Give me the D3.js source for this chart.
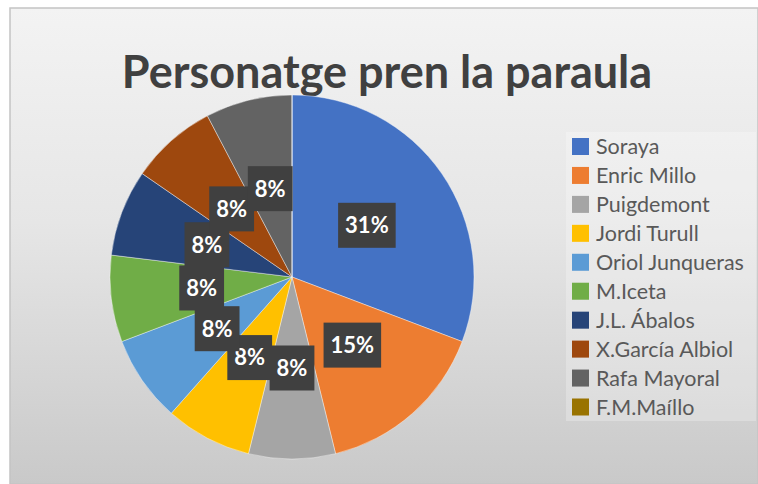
<!DOCTYPE html>
<html>
<head>
<meta charset="utf-8">
<script src="https://cdn.jsdelivr.net/npm/d3@7"></script>
<style>
  html, body { margin: 0; padding: 0; background: #ffffff; }
  svg { display: block; }
</style>
</head>
<body>
<svg id="chart" width="758" height="484"></svg>
<script>
const categories = ["Soraya", "Enric Millo", "Puigdemont", "Jordi Turull", "Oriol Junqueras",
  "M.Iceta", "J.L. Ábalos", "X.García Albiol", "Rafa Mayoral", "F.M.Maíllo"];
const values = [4, 2, 1, 1, 1, 1, 1, 1, 1, 0];
const colors = ["#4472C4", "#ED7D31", "#A5A5A5", "#FFC000", "#5B9BD5",
  "#70AD47", "#264478", "#9E480E", "#636363", "#997300"];
const title = "Personatge pren la paraula";

const svg = d3.select("#chart");
const W = 758, H = 484;

// background panel with gradient
const defs = svg.append("defs");
const grad = defs.append("linearGradient").attr("id", "bg").attr("x1", 0).attr("y1", 0).attr("x2", 0).attr("y2", 1);
grad.append("stop").attr("offset", "0%").attr("stop-color", "#f3f3f3");
grad.append("stop").attr("offset", "45%").attr("stop-color", "#e6e6e6");
grad.append("stop").attr("offset", "100%").attr("stop-color", "#c9c9c9");

svg.append("rect").attr("x", 0).attr("y", 0).attr("width", W).attr("height", H).attr("fill", "#ffffff");
svg.append("rect").attr("x", 10).attr("y", 8).attr("width", W - 10).attr("height", H - 8)
  .attr("fill", "url(#bg)").attr("stroke", "#c4c4c4").attr("stroke-width", 1.5);

// title
svg.append("text")
  .attr("x", 387).attr("y", 88)
  .attr("text-anchor", "middle")
  .attr("font-family", "Lato, 'Open Sans', sans-serif")
  .attr("font-weight", "bold")
  .attr("font-size", 45)
  .attr("fill", "#404040")
  .text(title);

// pie
const cx = 292, cy = 277, R = 182;
const g = svg.append("g").attr("transform", `translate(${cx},${cy})`);
const pie = d3.pie().sort(null).value(d => d.v);
const data = categories.map((c, i) => ({ c, v: values[i], col: colors[i] }));
const arcs = pie(data);
const arc = d3.arc().innerRadius(0).outerRadius(R);
const total = d3.sum(values);

g.selectAll("path.slice").data(arcs).join("path")
  .attr("class", "slice")
  .attr("d", arc)
  .attr("fill", d => d.data.col)
  .attr("stroke", "#ffffff").attr("stroke-opacity", 0.5).attr("stroke-width", 0.8);

// data labels
const fmt = d3.format(".0%");
const labels = g.selectAll("g.lab").data(arcs.filter(d => d.data.v > 0)).join("g")
  .attr("class", "lab")
  .attr("transform", d => { const [x, y] = arc.centroid(d); return `translate(${x},${y})`; });
labels.each(function(d) {
  const s = d3.select(this);
  const t = s.append("text")
    .attr("text-anchor", "middle")
    .attr("dy", "0.36em")
    .attr("font-family", "Lato, 'Open Sans', sans-serif")
    .attr("font-weight", "bold")
    .attr("font-size", 22)
    .attr("fill", "#ffffff")
    .text(fmt(d.data.v / total));
  const w = t.node().getComputedTextLength() + 14;
  s.insert("rect", "text")
    .attr("x", -w / 2).attr("y", -22.5).attr("width", w).attr("height", 45)
    .attr("fill", "#404040");
});

// legend
const lg = svg.append("g");
lg.append("rect").attr("x", 566).attr("y", 132).attr("width", 190).attr("height", 289)
  .attr("fill", "#ffffff").attr("fill-opacity", 0.25);
const ly = d3.scalePoint().domain(categories).range([146.5, 407]);
const items = lg.selectAll("g.item").data(data).join("g").attr("class", "item")
  .attr("transform", d => `translate(572,${ly(d.c)})`);
items.append("rect").attr("x", 0).attr("y", -8.5).attr("width", 17).attr("height", 17)
  .attr("fill", d => d.col);
items.append("text").attr("x", 24).attr("y", 0).attr("dy", "0.36em")
  .attr("font-family", "Lato, 'Open Sans', sans-serif")
  .attr("font-size", 21.5)
  .attr("fill", "#595959")
  .text(d => d.c);
</script>
</body>
</html>
